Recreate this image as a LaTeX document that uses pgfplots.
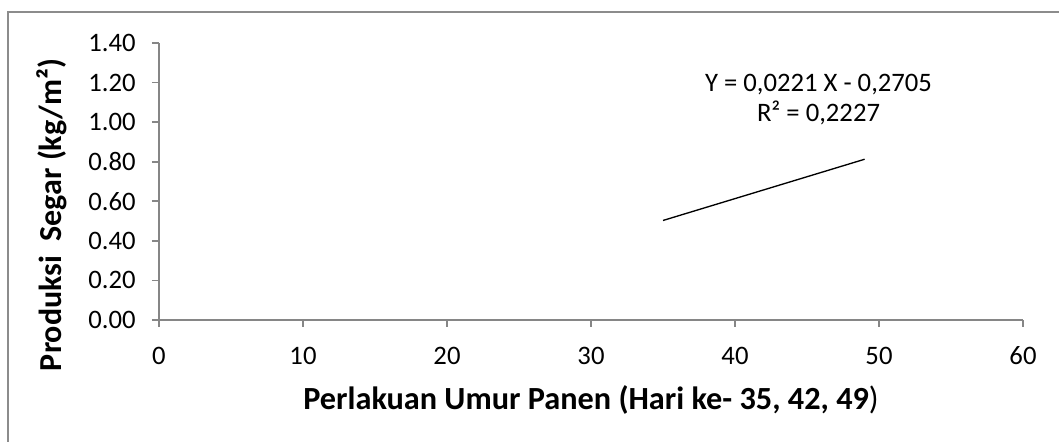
\documentclass[border=0pt]{standalone}
\usepackage{pgfplots}
\pgfplotsset{compat=1.18}
\usepackage{fontspec}
\setmainfont{Carlito}
\definecolor{axisgray}{RGB}{134,134,134}
\definecolor{framegray}{RGB}{140,140,140}
\begin{document}
\begin{tikzpicture}[x=0.75pt,y=0.75pt]
\useasboundingbox (0,0) rectangle (1059,442);
\draw[framegray, line width=1.3pt] (8,0) -- (8,430) -- (1059,430);
\begin{axis}[
    at={(119.25pt,91.5pt)}, anchor=origin,
    scale only axis,
    width=648pt, height=207.75pt,
    xmin=0, xmax=60,
    ymin=0, ymax=1.4,
    xtick={0,10,...,60},
    ytick={0,0.2,...,1.4},
    axis x line*=bottom,
    axis y line*=left,
    axis line style={axisgray, line width=1.3pt},
    tick style={axisgray, line width=1.3pt},
    tick align=outside,
    major tick length=5.25pt,
    /pgf/number format/assume math mode=true,
    yticklabel={\pgfmathprintnumber[fixed,fixed zerofill,precision=2]{\tick}},
    ticklabel style={font=\fontsize{20pt}{24pt}\selectfont, inner sep=0pt},
    xticklabel style={anchor=base, yshift=-28.5pt},
    yticklabel style={anchor=east, xshift=-12pt},
    clip=false,
]
\addplot[black, line width=1pt] coordinates {(35,0.503) (49,0.8124)};
\node[align=center, font=\fontsize{20pt}{22.5pt}\selectfont] at (axis cs:45.8,1.115)
    {Y = 0,0221 X - 0,2705\\R² = 0,2227};
\end{axis}
\node[anchor=base, font=\fontsize{24.2pt}{29pt}\selectfont] at (591,32)
    {\bfseries Perlakuan Umur Panen (Hari ke- 35, 42, 49\mdseries)};
\node[anchor=base, rotate=90, font=\fontsize{24pt}{29pt}\selectfont\bfseries] at (61,227)
    {Produksi\ \ Segar (kg/m²)};
\end{tikzpicture}
\end{document}
